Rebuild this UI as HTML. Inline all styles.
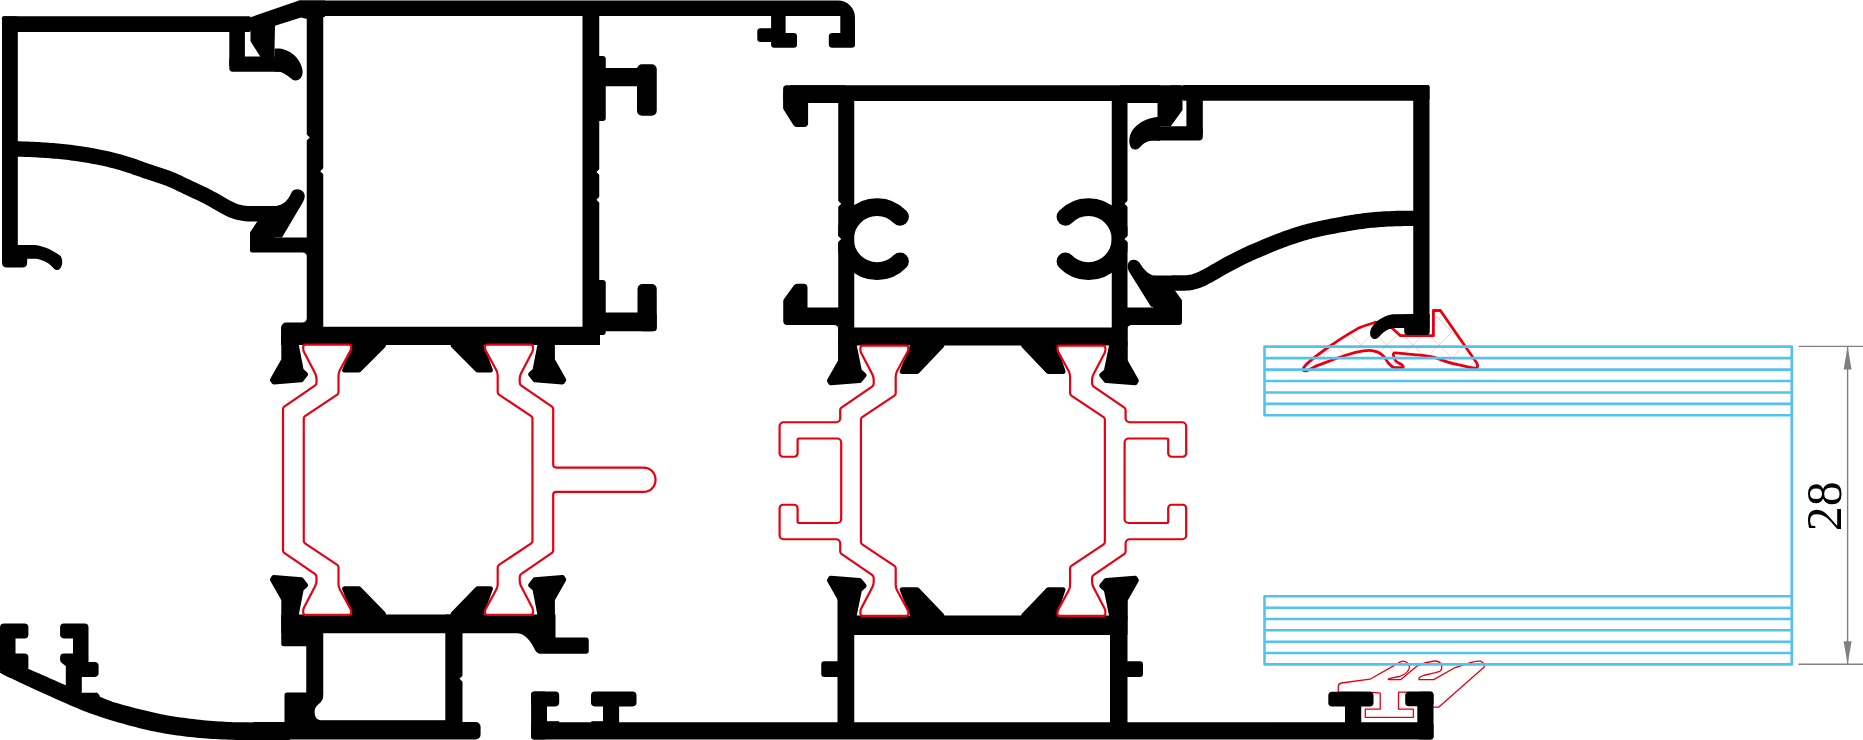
<!DOCTYPE html>
<html><head><meta charset="utf-8"><title>28</title>
<style>html,body{margin:0;padding:0;background:#fff;overflow:hidden}svg{display:block}text{font-family:"Liberation Serif",serif}</style>
</head><body>
<svg width="1863" height="740" viewBox="0 0 1863 740">
<rect width="1863" height="740" fill="#fff"/>
<clipPath id="gk"><path d="M1303.2,368.6 C1306,362.5 1320,353 1331.8,344.9 C1340,339 1350,333 1357.7,328.6 C1364,325.5 1370,324 1376.1,322.2 L1392.3,328.3 L1400.4,335.7 L1433.4,335.7 L1433.4,310.5 L1440.4,310.5 L1476.6,362.7 C1478.5,366 1478,368.5 1474.5,368.1 C1470,367.6 1466,366.5 1463.6,365.9 C1458,364.5 1452,363.5 1446.4,361.6 C1441,359.8 1437,358 1432.3,356.8 C1426,355.6 1420,355.2 1413.9,354.6 L1395.5,352.8 C1393.5,352.8 1393,354 1393.4,355.1 C1394,357.5 1394.5,359 1395.5,360.5 C1397,362.5 1400,363.5 1402,364.9 C1403.5,366 1403.6,367.6 1402.6,367.6 L1394.5,367.6 C1392,367 1390.5,365.5 1389,363.8 C1387,361.5 1385.5,358.5 1383.6,356.2 C1381.5,354 1379.5,352.8 1377.2,351.9 C1374.5,350.8 1372,350.3 1369.6,350.3 C1365,350.3 1360,351.3 1355.5,352.4 C1350,353.8 1344,355.8 1338.2,357.8 L1316.6,365.9 C1313,367.5 1310,369.8 1306.9,370.6 C1304,371.2 1302.3,370.5 1303.2,368.6 Z"/></clipPath>
<path d="M1186,300 l90,90 M1276,300 l-90,90 M1212,300 l90,90 M1302,300 l-90,90 M1238,300 l90,90 M1328,300 l-90,90 M1264,300 l90,90 M1354,300 l-90,90 M1290,300 l90,90 M1380,300 l-90,90 M1316,300 l90,90 M1406,300 l-90,90 M1342,300 l90,90 M1432,300 l-90,90 M1368,300 l90,90 M1458,300 l-90,90 M1394,300 l90,90 M1484,300 l-90,90 M1420,300 l90,90 M1510,300 l-90,90 M1446,300 l90,90 M1536,300 l-90,90 M1472,300 l90,90 M1562,300 l-90,90 M1498,300 l90,90 M1588,300 l-90,90 M1524,300 l90,90 M1614,300 l-90,90 M1550,300 l90,90 M1640,300 l-90,90 M1576,300 l90,90 M1666,300 l-90,90" clip-path="url(#gk)" stroke="#f7b4b4" stroke-width="0.6" fill="none"/>
<path d="M1303.2,368.6 C1306,362.5 1320,353 1331.8,344.9 C1340,339 1350,333 1357.7,328.6 C1364,325.5 1370,324 1376.1,322.2 L1392.3,328.3 L1400.4,335.7 L1433.4,335.7 L1433.4,310.5 L1440.4,310.5 L1476.6,362.7 C1478.5,366 1478,368.5 1474.5,368.1 C1470,367.6 1466,366.5 1463.6,365.9 C1458,364.5 1452,363.5 1446.4,361.6 C1441,359.8 1437,358 1432.3,356.8 C1426,355.6 1420,355.2 1413.9,354.6 L1395.5,352.8 C1393.5,352.8 1393,354 1393.4,355.1 C1394,357.5 1394.5,359 1395.5,360.5 C1397,362.5 1400,363.5 1402,364.9 C1403.5,366 1403.6,367.6 1402.6,367.6 L1394.5,367.6 C1392,367 1390.5,365.5 1389,363.8 C1387,361.5 1385.5,358.5 1383.6,356.2 C1381.5,354 1379.5,352.8 1377.2,351.9 C1374.5,350.8 1372,350.3 1369.6,350.3 C1365,350.3 1360,351.3 1355.5,352.4 C1350,353.8 1344,355.8 1338.2,357.8 L1316.6,365.9 C1313,367.5 1310,369.8 1306.9,370.6 C1304,371.2 1302.3,370.5 1303.2,368.6 Z" fill="none" stroke="#e60012" stroke-width="2.8" stroke-linejoin="round"/>
<path d="M1338.25,692 L1338.25,686.5 Q1338.5,683.5 1341.5,683 L1369.9,679.2 L1397.9,663.4 Q1400.5,661.6 1402.7,661.2 Q1406,661 1408,663.5 Q1410.5,666.5 1408.5,670 Q1406,674.5 1399,676.5 L1389,678.6 Q1387.3,679.6 1389.5,679.6 L1400.9,679.6 L1417.3,665.8 Q1425,662 1434.4,661 Q1439,660.8 1441,664 Q1443,669 1439.8,671.3 L1434.4,672.9 L1423.4,675.5 Q1418,677.5 1419,679.6 L1433.7,679.6 L1453.8,668.2 L1469.6,662.8 Q1476,660.6 1480.5,661.2 Q1485,663 1484.2,667 L1438.6,707.2 L1432.5,707.2 M1338.25,692 L1372.9,692.4 L1380.2,693.2 L1380.2,709.2 L1365.3,709.2 L1365.3,717.3 L1413.4,717.3 L1413.4,709.2 L1398.5,709.2 L1398.5,692.2 L1432,692.2" fill="none" stroke="#e60012" stroke-width="1.3" stroke-linejoin="round"/>
<rect x="2.00" y="16.25" width="15.80" height="245.75" rx="2" fill="#000"/>
<rect x="2.00" y="16.25" width="249.00" height="15.75" rx="2" fill="#000"/>
<rect x="229.30" y="28.00" width="15.60" height="38.00" rx="0" fill="#000"/>
<rect x="229.30" y="56.50" width="54.70" height="15.30" rx="3.5" fill="#000"/>
<path d="M17,244.9 L34.9,244.9 C44,246 54,250.5 60.8,256.2 C62.3,259 62.5,262 62,264.7 C61,268.5 59,270.2 56.8,270 C54.5,269.8 53.5,268 51.9,266.4 C49,263.6 46.5,262.3 43.8,261.1 C41,259.8 38.5,258.7 35.7,258.7 L27.2,258.7 L27.2,262.6 Q27.2,267.6 22.2,267.6 L7,267.6 Q2,267.6 2,262.6 L2,244.9 Z" fill="#000"/>
<path d="M12.00,149.00 L12.36,148.99 L12.74,148.98 L13.18,148.96 L13.72,148.95 L14.43,148.94 L15.35,148.94 L16.52,148.96 L18.00,149.00 L19.87,149.06 L22.12,149.13 L24.66,149.22 L27.39,149.31 L30.23,149.42 L33.07,149.54 L35.82,149.67 L38.40,149.80 L40.83,149.94 L43.23,150.09 L45.60,150.25 L47.94,150.42 L50.28,150.60 L52.61,150.79 L54.95,150.99 L57.30,151.20 L59.70,151.43 L62.14,151.67 L64.61,151.93 L67.07,152.20 L69.49,152.47 L71.83,152.75 L74.08,153.03 L76.20,153.30 L78.13,153.56 L79.89,153.80 L81.52,154.05 L83.10,154.29 L84.68,154.55 L86.31,154.83 L88.07,155.15 L90.00,155.50 L92.12,155.89 L94.37,156.31 L96.71,156.76 L99.13,157.24 L101.59,157.73 L104.06,158.25 L106.50,158.79 L108.90,159.35 L111.26,159.93 L113.62,160.52 L115.99,161.14 L118.35,161.78 L120.71,162.44 L123.08,163.12 L125.44,163.82 L127.80,164.55 L130.13,165.30 L132.42,166.07 L134.69,166.86 L136.97,167.68 L139.29,168.51 L141.67,169.37 L144.13,170.25 L146.70,171.15 L149.43,172.08 L152.32,173.03 L155.31,174.01 L158.35,175.02 L161.39,176.03 L164.38,177.06 L167.27,178.10 L170.00,179.15 L172.57,180.21 L175.03,181.28 L177.41,182.37 L179.73,183.46 L182.01,184.57 L184.28,185.68 L186.57,186.79 L188.90,187.90 L191.26,189.00 L193.62,190.09 L195.99,191.19 L198.35,192.28 L200.71,193.40 L203.08,194.53 L205.44,195.70 L207.80,196.90 L210.23,198.19 L212.75,199.59 L215.30,201.04 L217.84,202.51 L220.30,203.93 L222.64,205.27 L224.79,206.48 L226.70,207.50 L228.34,208.34 L229.74,209.03 L230.96,209.61 L232.04,210.09 L233.06,210.51 L234.05,210.88 L235.08,211.24 L236.20,211.60 L237.38,211.95 L238.56,212.27 L239.73,212.54 L240.91,212.79 L242.08,213.00 L243.25,213.19 L244.43,213.35 L245.60,213.50 L246.75,213.62 L247.87,213.70 L248.97,213.75 L250.08,213.77 L251.21,213.78 L252.40,213.79 L253.65,213.79 L255.00,213.80 L256.46,213.81 L258.02,213.81 L259.66,213.81 L261.34,213.80 L263.04,213.78 L264.74,213.77 L266.40,213.76 L268.00,213.75 L269.63,213.74 L271.35,213.74 L273.10,213.73 L274.81,213.72 L276.42,213.72 L277.87,213.71 L279.08,213.70 L280.00,213.70" fill="none" stroke="#000" stroke-width="15.4" stroke-linejoin="round"/>
<path d="M262,221 L277.5,205.5 C285,204.5 289,198 291,193.5 C293,188 301,188 304,193 C305.5,196 304.5,199 303,202 L282,237.5 L275,237.5 Z" fill="#000"/>
<path d="M258.58,223.00 L252.00,233.09 L252.00,250.50 L307.00,250.50 L307.00,239.50 L273.87,239.50 L263.87,223.00Z" fill="#000" stroke="#000" stroke-width="4" stroke-linejoin="round"/>
<path d="M299,0.5 L838,0.5 A17,17 0 0 1 855,17.5 L855,45 Q855,47.8 851.5,47.8 L832.3,47.8 Q828.8,47.8 828.8,44.3 L828.8,36.4 Q828.8,32.9 832.3,32.9 L840.3,33 L840.3,16 L299,16 Z" fill="#000"/>
<path d="M250.50,17.30 L299.00,0.50 L325.00,0.50 L325.00,17.00 L307.00,19.00 L301.00,17.50 L275.00,25.75 L274.50,50.00 L274.50,58.00 L261.00,58.00 L260.00,56.25 L250.50,41.25Z" fill="#000"/>
<path d="M274.5,48.75 C285,47 300,55 302.5,70 C303.5,77 299,81 295,80.5 C291,80 289,75 280,71.75 L274.5,71.75 Z" fill="#000"/>
<rect x="306.75" y="10.00" width="16.50" height="335.00" rx="0" fill="#000"/>
<rect x="582.50" y="10.00" width="16.75" height="335.00" rx="0" fill="#000"/>
<rect x="590.00" y="56.00" width="15.75" height="65.00" rx="3" fill="#000"/>
<rect x="590.00" y="280.00" width="15.75" height="55.00" rx="3" fill="#000"/>
<rect x="599.00" y="68.00" width="51.00" height="18.25" rx="0" fill="#000"/>
<rect x="637.00" y="64.25" width="19.75" height="51.50" rx="5" fill="#000"/>
<rect x="599.00" y="312.50" width="57.75" height="18.75" rx="3" fill="#000"/>
<rect x="637.50" y="284.00" width="19.25" height="47.25" rx="5" fill="#000"/>
<rect x="281.25" y="326.75" width="318.75" height="18.25" rx="0" fill="#000"/>
<rect x="281.25" y="322.50" width="30.75" height="22.50" rx="5" fill="#000"/>
<rect x="281.25" y="330.00" width="18.75" height="15.00" rx="0" fill="#000"/>
<path d="M774.30,13.20 L774.30,31.40 L760.50,31.40 L760.50,38.80 L774.30,38.80 L774.30,44.60 L793.80,44.60 L793.80,36.10 L782.40,36.10 L782.40,13.20Z" fill="#000" stroke="#000" stroke-width="6.4" stroke-linejoin="round"/>
<path d="M354.68,345.50 L344.71,370.10 L358.96,370.10 L383.39,345.50Z" fill="#000" stroke="#000" stroke-width="5.0" stroke-linejoin="round"/>
<path d="M453.19,345.50 L477.54,370.10 L490.40,370.10 L481.26,345.50Z" fill="#000" stroke="#000" stroke-width="5.0" stroke-linejoin="round"/>
<path d="M281.25,614.5 L555.5,614.5 L555.5,637.5 L586,637.5 Q588.75,637.5 588.75,640.5 L588.75,651 Q588.75,653.75 586,653.75 L541,653.75 C537,653.75 535.5,651 534,648 C531,642 526,634 517.5,633.25 L281.25,633.25 Z" fill="#000"/>
<path d="M283.75,618.50 L283.75,643.75 L308.75,643.75 L308.75,695.00 L287.00,695.00 L287.00,722.50 L320.75,722.50 L320.75,618.50Z" fill="#000" stroke="#000" stroke-width="5.0" stroke-linejoin="round"/>
<rect x="445.30" y="614.50" width="17.20" height="124.50" rx="0" fill="#000"/>
<rect x="250.00" y="722.00" width="230.60" height="17.40" rx="5" fill="#000"/>
<path d="M323.4,695 C323.6,704 314.6,704 314.6,711.5 C314.6,717 317,720.2 321,720.2 L326,720.2 L326,695 Z" fill="#fff"/>
<rect x="323.00" y="720.20" width="123.00" height="4.80" rx="0" fill="#000"/>
<path d="M354.70,614.00 L344.68,588.75 L358.94,588.75 L383.48,614.00Z" fill="#000" stroke="#000" stroke-width="5.0" stroke-linejoin="round"/>
<path d="M453.10,614.00 L477.56,588.75 L490.43,588.75 L481.25,614.00Z" fill="#000" stroke="#000" stroke-width="5.0" stroke-linejoin="round"/>
<path d="M28.40,668.80 L29.76,669.40 L31.56,670.20 L33.72,671.16 L36.11,672.22 L38.63,673.34 L41.19,674.47 L43.68,675.58 L46.00,676.60 L48.29,677.61 L50.73,678.69 L53.23,679.78 L55.69,680.87 L58.04,681.90 L60.18,682.84 L62.03,683.65 L63.50,684.30 L64.55,684.76 L65.24,685.06 L65.65,685.24 L65.84,685.33 L65.90,685.36 L65.90,685.36 L65.91,685.36 L66.00,685.40 L66.00,692.70 L97.30,692.70 L99.50,696.50 L100.45,696.90 L101.62,697.43 L103.00,698.05 L104.59,698.76 L106.38,699.51 L108.36,700.30 L110.54,701.11 L112.90,701.90 L115.53,702.72 L118.48,703.59 L121.67,704.50 L125.03,705.42 L128.49,706.36 L131.97,707.28 L135.40,708.16 L138.70,709.00 L141.92,709.80 L145.13,710.59 L148.34,711.35 L151.55,712.10 L154.76,712.82 L157.97,713.51 L161.18,714.17 L164.40,714.80 L167.62,715.39 L170.84,715.94 L174.07,716.46 L177.29,716.96 L180.52,717.42 L183.75,717.87 L186.97,718.29 L190.20,718.70 L193.42,719.09 L196.65,719.46 L199.88,719.80 L203.10,720.13 L206.32,720.43 L209.55,720.71 L212.77,720.96 L216.00,721.20 L219.07,721.41 L221.93,721.60 L224.69,721.76 L227.50,721.91 L230.48,722.03 L233.78,722.14 L237.50,722.22 L241.80,722.30 L247.08,722.35 L253.40,722.38 L260.35,722.38 L267.51,722.37 L274.47,722.35 L280.81,722.33 L286.13,722.31 L290.00,722.30 L290.00,740.50 L287.69,740.51 L284.64,740.52 L281.00,740.54 L276.94,740.55 L272.65,740.56 L268.28,740.56 L264.01,740.54 L260.00,740.50 L256.13,740.44 L252.18,740.37 L248.19,740.29 L244.19,740.19 L240.22,740.09 L236.33,739.97 L232.54,739.84 L228.90,739.70 L225.42,739.55 L222.08,739.40 L218.84,739.25 L215.67,739.08 L212.54,738.89 L209.43,738.68 L206.29,738.45 L203.10,738.20 L199.88,737.92 L196.65,737.63 L193.43,737.32 L190.20,736.99 L186.98,736.63 L183.75,736.25 L180.53,735.84 L177.30,735.40 L174.07,734.93 L170.85,734.44 L167.62,733.92 L164.39,733.38 L161.17,732.80 L157.94,732.20 L154.72,731.57 L151.50,730.90 L148.28,730.20 L145.07,729.47 L141.86,728.70 L138.65,727.91 L135.44,727.09 L132.23,726.24 L129.02,725.38 L125.80,724.50 L122.54,723.59 L119.23,722.64 L115.89,721.66 L112.56,720.66 L109.28,719.66 L106.07,718.65 L102.96,717.67 L100.00,716.70 L97.33,715.82 L94.98,715.05 L92.82,714.33 L90.69,713.59 L88.46,712.78 L85.97,711.84 L83.10,710.70 L79.70,709.30 L75.69,707.61 L71.20,705.68 L66.32,703.56 L61.19,701.30 L55.93,698.96 L50.64,696.59 L45.46,694.25 L40.50,692.00 L35.47,689.70 L30.13,687.23 L24.68,684.70 L19.32,682.19 L14.24,679.79 L9.65,677.60 L5.74,675.71 L2.70,674.20 L0.66,673.12 L-0.51,672.40 L-1.00,671.96 L-1.01,671.74 L-0.73,671.65 L-0.34,671.63 L-0.03,671.61 L0.00,671.50Z" fill="#000"/>
<path d="M4.00,627.50 L24.40,627.50 L24.40,634.40 L11.50,634.40 L11.50,657.50 L24.40,657.50 L24.40,667.38 L10.21,673.55 L4.00,670.13Z" fill="#000" stroke="#000" stroke-width="8" stroke-linejoin="round"/>
<path d="M63.90,627.30 L84.70,627.30 L84.70,665.80 L94.80,665.80 L94.80,673.10 L78.00,673.10 L78.00,691.20 L69.60,691.20 L69.60,664.16 L63.90,659.66 L63.90,657.30 L76.80,657.30 L76.80,634.60 L63.90,634.60Z" fill="#000" stroke="#000" stroke-width="7.6" stroke-linejoin="round"/>
<path d="M96,692.7 Q98.5,692.7 100,696.7 L96,697 Z" fill="#000"/>
<rect x="783.10" y="85.30" width="399.40" height="15.70" rx="3.5" fill="#000"/>
<rect x="790.00" y="85.30" width="55.00" height="17.70" rx="0" fill="#000"/>
<rect x="1170.00" y="85.30" width="12.50" height="9.70" rx="0" fill="#000"/>
<path d="M787.10,96.00 L787.10,107.65 L796.71,122.90 L804.10,122.90 L804.10,96.00Z" fill="#000" stroke="#000" stroke-width="8" stroke-linejoin="round"/>
<rect x="838.25" y="90.00" width="16.00" height="272.00" rx="0" fill="#000"/>
<rect x="1111.75" y="90.00" width="15.75" height="272.00" rx="0" fill="#000"/>
<clipPath id="c1"><rect x="838.25" y="150" width="120" height="200"/></clipPath><clipPath id="c2"><rect x="1000" y="150" width="127.5" height="200"/></clipPath>
<path d="M900,216.9 A32,32 0 1,0 900,261.3" fill="none" stroke="#000" stroke-width="17.8" stroke-linecap="round" clip-path="url(#c1)"/>
<path d="M1065.5,216.9 A32,32 0 1,1 1065.5,261.3" fill="none" stroke="#000" stroke-width="17.8" stroke-linecap="round" clip-path="url(#c2)"/>
<path d="M787.25,301.29 L797.04,287.75 L803.50,287.75 L803.50,311.50 L838.00,311.50 L838.00,321.00 L787.25,321.00Z" fill="#000" stroke="#000" stroke-width="8" stroke-linejoin="round"/>
<rect x="838.25" y="327.50" width="289.25" height="18.00" rx="0" fill="#000"/>
<path d="M912.69,345.50 L902.21,371.40 L917.13,371.40 L941.86,345.50Z" fill="#000" stroke="#000" stroke-width="5.0" stroke-linejoin="round"/>
<path d="M1023.64,345.50 L1048.37,371.40 L1063.01,371.40 L1054.21,345.50Z" fill="#000" stroke="#000" stroke-width="5.0" stroke-linejoin="round"/>
<path d="M1157.50,95.00 L1157.50,126.25 L1170.75,126.25 L1182.50,110.00 L1182.50,95.00Z" fill="#000"/>
<path d="M1123.00,310.60 L1154.84,310.60 L1163.84,293.00 L1173.05,293.00 L1179.00,301.36 L1179.00,322.00 L1123.00,322.00Z" fill="#000" stroke="#000" stroke-width="6" stroke-linejoin="round"/>
<rect x="1182.00" y="85.00" width="247.50" height="15.75" rx="2" fill="#000"/>
<rect x="1413.25" y="85.00" width="16.25" height="245.00" rx="2" fill="#000"/>
<rect x="1186.40" y="95.00" width="16.40" height="39.00" rx="0" fill="#000"/>
<rect x="1155.00" y="126.25" width="47.80" height="14.15" rx="4" fill="#000"/>
<rect x="1120.00" y="85.30" width="40.00" height="17.70" rx="0" fill="#000"/>
<path d="M1160,117 C1148,117 1132,124 1129.5,138 C1128.5,145 1131,150 1136,149.5 C1141,149 1142,141 1152,140.75 L1160,140.75 Z" fill="#000"/>
<path d="M1420.00,218.40 L1419.55,218.40 L1419.03,218.40 L1418.41,218.39 L1417.69,218.39 L1416.83,218.39 L1415.83,218.39 L1414.66,218.39 L1413.30,218.40 L1411.71,218.41 L1409.90,218.41 L1407.90,218.41 L1405.76,218.41 L1403.53,218.42 L1401.24,218.45 L1398.95,218.49 L1396.70,218.55 L1394.45,218.63 L1392.14,218.72 L1389.78,218.82 L1387.39,218.93 L1384.99,219.06 L1382.58,219.21 L1380.18,219.37 L1377.80,219.55 L1375.44,219.75 L1373.08,219.96 L1370.71,220.19 L1368.35,220.44 L1365.99,220.70 L1363.63,220.98 L1361.26,221.28 L1358.90,221.60 L1356.57,221.94 L1354.28,222.29 L1352.01,222.65 L1349.73,223.04 L1347.41,223.45 L1345.03,223.87 L1342.57,224.33 L1340.00,224.80 L1337.27,225.30 L1334.38,225.84 L1331.39,226.40 L1328.35,226.97 L1325.31,227.57 L1322.32,228.18 L1319.43,228.79 L1316.70,229.40 L1314.13,230.01 L1311.67,230.62 L1309.29,231.24 L1306.98,231.87 L1304.69,232.52 L1302.42,233.18 L1300.13,233.88 L1297.80,234.60 L1295.44,235.35 L1293.08,236.13 L1290.71,236.94 L1288.35,237.77 L1285.99,238.61 L1283.63,239.48 L1281.26,240.36 L1278.90,241.25 L1276.50,242.18 L1274.06,243.15 L1271.59,244.15 L1269.13,245.16 L1266.71,246.17 L1264.37,247.16 L1262.12,248.11 L1260.00,249.00 L1258.07,249.81 L1256.31,250.55 L1254.68,251.24 L1253.10,251.91 L1251.52,252.60 L1249.89,253.33 L1248.13,254.14 L1246.20,255.05 L1244.08,256.07 L1241.83,257.16 L1239.49,258.32 L1237.07,259.53 L1234.61,260.77 L1232.14,262.04 L1229.70,263.32 L1227.30,264.60 L1224.87,265.93 L1222.35,267.36 L1219.80,268.83 L1217.26,270.31 L1214.80,271.75 L1212.46,273.11 L1210.31,274.34 L1208.40,275.40 L1206.76,276.29 L1205.36,277.03 L1204.14,277.67 L1203.06,278.21 L1202.04,278.69 L1201.05,279.14 L1200.02,279.56 L1198.90,280.00 L1197.72,280.44 L1196.55,280.84 L1195.37,281.22 L1194.20,281.57 L1193.03,281.88 L1191.85,282.16 L1190.68,282.40 L1189.50,282.60 L1188.33,282.75 L1187.19,282.85 L1186.05,282.90 L1184.91,282.93 L1183.75,282.93 L1182.55,282.93 L1181.31,282.93 L1180.00,282.95 L1178.63,282.98 L1177.22,283.01 L1175.77,283.03 L1174.28,283.05 L1172.76,283.06 L1171.20,283.08 L1169.61,283.09 L1168.00,283.10 L1166.25,283.11 L1164.31,283.11 L1162.28,283.11 L1160.25,283.11 L1158.31,283.11 L1156.56,283.10 L1155.09,283.10 L1154.00,283.10" fill="none" stroke="#000" stroke-width="15.4" stroke-linejoin="round"/>
<path d="M1172,291 L1156,276 C1149,275.3 1144.5,270.3 1141,265 C1138.5,259.5 1131,257.8 1128.3,263 C1127,266 1127.6,268.5 1129,271.5 L1151,306.8 L1158,307.6 Z" fill="#000"/>
<path d="M1414,314 L1393,314.3 C1385,315.5 1379,319.5 1376,322.2 C1372.5,325.5 1370.3,329 1370.1,332.5 C1370,336.5 1372,339.2 1375.2,339 C1378.5,338.8 1380,335 1384,332 C1387,329.8 1390,328.4 1394,328 L1404.2,328 L1404.2,331.5 Q1404.2,335.1 1408,335.1 L1426.5,335.1 Q1429.7,335.1 1429.7,332 L1429.7,314 Z" fill="#000"/>
<rect x="838.25" y="615.50" width="289.25" height="19.50" rx="0" fill="#000"/>
<rect x="837.50" y="598.00" width="16.75" height="127.00" rx="0" fill="#000"/>
<rect x="1110.00" y="598.00" width="17.50" height="127.00" rx="0" fill="#000"/>
<path d="M912.68,615.50 L902.22,589.80 L917.14,589.80 L941.83,615.50Z" fill="#000" stroke="#000" stroke-width="5.0" stroke-linejoin="round"/>
<path d="M1023.67,615.50 L1048.36,589.80 L1063.00,589.80 L1054.21,615.50Z" fill="#000" stroke="#000" stroke-width="5.0" stroke-linejoin="round"/>
<rect x="821.25" y="661.25" width="20.75" height="15.75" rx="3" fill="#000"/>
<rect x="1122.00" y="661.25" width="21.00" height="15.75" rx="3" fill="#000"/>
<rect x="531.10" y="722.30" width="902.40" height="17.10" rx="3" fill="#000"/>
<rect x="546.00" y="721.20" width="13.20" height="2.80" rx="0" fill="#000"/>
<rect x="591.40" y="721.20" width="12.60" height="2.80" rx="0" fill="#000"/>
<rect x="531.10" y="691.60" width="15.90" height="47.80" rx="3" fill="#000"/>
<rect x="531.10" y="691.60" width="28.10" height="14.80" rx="3.8" fill="#000"/>
<rect x="591.00" y="691.60" width="45.50" height="14.80" rx="3.8" fill="#000"/>
<rect x="603.00" y="700.00" width="16.10" height="25.00" rx="0" fill="#000"/>
<rect x="1328.30" y="691.80" width="45.20" height="14.70" rx="3.8" fill="#000"/>
<rect x="1345.00" y="700.00" width="16.25" height="25.00" rx="0" fill="#000"/>
<rect x="1417.30" y="691.80" width="16.20" height="47.60" rx="3" fill="#000"/>
<rect x="1405.20" y="691.80" width="28.30" height="14.50" rx="3.8" fill="#000"/>
<path d="M307.2,317.5 Q306.75,322.5 301.5,322.5 L307.2,323 Z" fill="#000"/>
<path d="M307.2,257 Q306.75,252.5 302,252.5 L307.2,252 Z" fill="#000"/>
<path d="M1127,329.5 Q1127.5,325 1132,325 L1127,324.5 Z" fill="#000"/>
<path d="M838.6,329.5 Q838.3,325 833.8,325 L838.6,324.5 Z" fill="#000"/>
<path d="M283.80,342.00 L283.80,359.96 L272.43,379.91 L273.78,381.99 L301.31,379.80 L305.60,374.29 L301.20,370.29 L296.20,344.44 L296.20,342.00Z" fill="#000" stroke="#000" stroke-width="5.0" stroke-linejoin="round"/>
<path d="M552.40,342.00 L552.40,359.96 L563.77,379.91 L562.42,381.99 L534.89,379.80 L530.60,374.29 L535.00,370.29 L540.00,344.44 L540.00,342.00Z" fill="#000" stroke="#000" stroke-width="5.0" stroke-linejoin="round"/>
<path d="M283.80,617.50 L283.80,599.54 L272.43,579.59 L273.78,577.51 L301.31,579.70 L305.60,585.21 L301.20,589.21 L296.20,615.06 L296.20,617.50Z" fill="#000" stroke="#000" stroke-width="5.0" stroke-linejoin="round"/>
<path d="M552.40,617.50 L552.40,599.54 L563.77,579.59 L562.42,577.51 L534.89,579.70 L530.60,585.21 L535.00,589.21 L540.00,615.06 L540.00,617.50Z" fill="#000" stroke="#000" stroke-width="5.0" stroke-linejoin="round"/>
<path d="M840.80,342.80 L840.80,360.76 L829.43,380.71 L830.79,382.79 L859.56,380.59 L864.09,375.10 L859.49,371.14 L854.19,345.25 L854.19,342.80Z" fill="#000" stroke="#000" stroke-width="5.0" stroke-linejoin="round"/>
<path d="M1125.00,342.80 L1125.00,360.76 L1136.37,380.71 L1135.01,382.79 L1106.24,380.59 L1101.71,375.10 L1106.31,371.14 L1111.61,345.25 L1111.61,342.80Z" fill="#000" stroke="#000" stroke-width="5.0" stroke-linejoin="round"/>
<path d="M840.80,618.20 L840.80,600.24 L829.43,580.29 L830.79,578.21 L859.56,580.41 L864.09,585.90 L859.49,589.86 L854.19,615.75 L854.19,618.20Z" fill="#000" stroke="#000" stroke-width="5.0" stroke-linejoin="round"/>
<path d="M1125.00,618.20 L1125.00,600.24 L1136.37,580.29 L1135.01,578.21 L1106.24,580.41 L1101.71,585.90 L1106.31,589.86 L1111.61,615.75 L1111.61,618.20Z" fill="#000" stroke="#000" stroke-width="5.0" stroke-linejoin="round"/>
<path d="M306.15,134.00 L309.75,137.50 L306.15,141.00Z" fill="#fff"/>
<path d="M323.85,167.80 L320.25,171.30 L323.85,174.80Z" fill="#fff"/>
<path d="M600.00,168.50 L596.40,172.00 L600.00,175.50Z" fill="#fff"/>
<path d="M600.00,196.20 L596.40,199.70 L600.00,203.20Z" fill="#fff"/>
<path d="M837.65,200.25 L841.25,203.75 L837.65,207.25Z" fill="#fff"/>
<path d="M837.65,235.40 L841.25,238.90 L837.65,242.40Z" fill="#fff"/>
<path d="M1128.10,200.25 L1124.50,203.75 L1128.10,207.25Z" fill="#fff"/>
<path d="M1128.10,235.40 L1124.50,238.90 L1128.10,242.40Z" fill="#fff"/>
<path d="M463.10,675.25 L459.50,678.75 L463.10,682.25Z" fill="#fff"/>
<path d="M348.85,344.60 A2.35,2.35 0 0 1 351.20,346.95 L351.20,347.40 A7.82,7.82 0 0 1 350.24,351.15 L339.94,369.97 A11.73,11.73 0 0 0 338.50,375.60 L338.50,392.25 A2.81,2.81 0 0 1 337.25,394.58 L305.00,416.17 A2.81,2.81 0 0 0 303.75,418.50 L303.75,541.00 A2.81,2.81 0 0 0 305.00,543.33 L337.25,564.92 A2.81,2.81 0 0 1 338.50,567.25 L338.50,583.90 A11.73,11.73 0 0 0 339.94,589.53 L350.24,608.35 A7.82,7.82 0 0 1 351.20,612.10 L351.20,612.55 A2.35,2.35 0 0 1 348.85,614.90 L305.70,614.90 A2.50,2.50 0 0 1 303.20,612.40 L303.20,611.10 A8.13,8.13 0 0 1 304.13,607.33 L315.11,586.36 A12.20,12.20 0 0 0 316.50,580.70 L316.50,577.10 A3.81,3.81 0 0 0 314.85,573.96 L284.23,552.85 A2.86,2.86 0 0 1 283.00,550.50 L283.00,409.00 A2.86,2.86 0 0 1 284.23,406.65 L314.85,385.54 A3.81,3.81 0 0 0 316.50,382.40 L316.50,378.80 A12.20,12.20 0 0 0 315.11,373.14 L304.13,352.17 A8.13,8.13 0 0 1 303.20,348.40 L303.20,347.10 A2.50,2.50 0 0 1 305.70,344.60Z" fill="none" stroke="#e60012" stroke-width="2.2" stroke-linejoin="round"/>
<path d="M487.35,344.60 A2.35,2.35 0 0 0 485.00,346.95 L485.00,347.40 A7.82,7.82 0 0 0 485.96,351.15 L496.26,369.97 A11.73,11.73 0 0 1 497.70,375.60 L497.70,392.25 A2.81,2.81 0 0 0 498.95,394.58 L531.20,416.17 A2.81,2.81 0 0 1 532.45,418.50 L532.45,541.00 A2.81,2.81 0 0 1 531.20,543.33 L498.95,564.92 A2.81,2.81 0 0 0 497.70,567.25 L497.70,583.90 A11.73,11.73 0 0 1 496.26,589.53 L485.96,608.35 A7.82,7.82 0 0 0 485.00,612.10 L485.00,612.55 A2.35,2.35 0 0 0 487.35,614.90 L530.50,614.90 A2.50,2.50 0 0 0 533.00,612.40 L533.00,611.10 A8.13,8.13 0 0 0 532.07,607.33 L521.09,586.36 A12.20,12.20 0 0 1 519.70,580.70 L519.70,577.10 A3.81,3.81 0 0 1 521.35,573.96 L551.97,552.85 A2.86,2.86 0 0 0 553.20,550.50 L553.20,494.90 A3.00,3.00 0 0 1 556.20,491.90 L643.60,491.90 A11.90,11.90 0 0 0 655.50,480.00 L655.50,479.50 A11.90,11.90 0 0 0 643.60,467.60 L556.20,467.60 A3.00,3.00 0 0 1 553.20,464.60 L553.20,409.00 A2.86,2.86 0 0 0 551.97,406.65 L521.35,385.54 A3.81,3.81 0 0 1 519.70,382.40 L519.70,378.80 A12.20,12.20 0 0 1 521.09,373.14 L532.07,352.17 A8.13,8.13 0 0 0 533.00,348.40 L533.00,347.10 A2.50,2.50 0 0 0 530.50,344.60Z" fill="none" stroke="#e60012" stroke-width="2.2" stroke-linejoin="round"/>
<path d="M906.05,345.60 A2.35,2.35 0 0 1 908.40,347.95 L908.40,348.40 A7.82,7.82 0 0 1 907.44,352.15 L897.14,370.97 A11.73,11.73 0 0 0 895.70,376.60 L895.70,393.25 A2.81,2.81 0 0 1 894.45,395.58 L862.20,417.17 A2.81,2.81 0 0 0 860.95,419.50 L860.95,542.00 A2.81,2.81 0 0 0 862.20,544.33 L894.45,565.92 A2.81,2.81 0 0 1 895.70,568.25 L895.70,584.90 A11.73,11.73 0 0 0 897.14,590.53 L907.44,609.35 A7.82,7.82 0 0 1 908.40,613.10 L908.40,613.55 A2.35,2.35 0 0 1 906.05,615.90 L862.90,615.90 A2.50,2.50 0 0 1 860.40,613.40 L860.40,612.10 A8.13,8.13 0 0 1 861.33,608.33 L872.31,587.36 A12.20,12.20 0 0 0 873.70,581.70 L873.70,578.10 A3.81,3.81 0 0 0 872.05,574.96 L841.43,553.85 A2.86,2.86 0 0 1 840.20,551.50 L840.20,543.25 A4.00,4.00 0 0 0 836.20,539.25 L783.60,539.25 A4.00,4.00 0 0 1 779.60,535.25 L779.60,508.25 A3.50,3.50 0 0 1 783.10,504.75 L794.10,504.75 A3.50,3.50 0 0 1 797.60,508.25 L797.60,522.00 A1.00,1.00 0 0 0 798.60,523.00 L837.20,523.00 A4.00,4.00 0 0 0 841.20,519.00 L841.20,442.50 A4.00,4.00 0 0 0 837.20,438.50 L798.60,438.50 A1.00,1.00 0 0 0 797.60,439.50 L797.60,453.25 A3.50,3.50 0 0 1 794.10,456.75 L783.10,456.75 A3.50,3.50 0 0 1 779.60,453.25 L779.60,426.25 A4.00,4.00 0 0 1 783.60,422.25 L836.20,422.25 A4.00,4.00 0 0 0 840.20,418.25 L840.20,410.00 A2.86,2.86 0 0 1 841.43,407.65 L872.05,386.54 A3.81,3.81 0 0 0 873.70,383.40 L873.70,379.80 A12.20,12.20 0 0 0 872.31,374.14 L861.33,353.17 A8.13,8.13 0 0 1 860.40,349.40 L860.40,348.10 A2.50,2.50 0 0 1 862.90,345.60Z" fill="none" stroke="#e60012" stroke-width="2.2" stroke-linejoin="round"/>
<path d="M1059.75,345.60 A2.35,2.35 0 0 0 1057.40,347.95 L1057.40,348.40 A7.82,7.82 0 0 0 1058.36,352.15 L1068.66,370.97 A11.73,11.73 0 0 1 1070.10,376.60 L1070.10,393.25 A2.81,2.81 0 0 0 1071.35,395.58 L1103.60,417.17 A2.81,2.81 0 0 1 1104.85,419.50 L1104.85,542.00 A2.81,2.81 0 0 1 1103.60,544.33 L1071.35,565.92 A2.81,2.81 0 0 0 1070.10,568.25 L1070.10,584.90 A11.73,11.73 0 0 1 1068.66,590.53 L1058.36,609.35 A7.82,7.82 0 0 0 1057.40,613.10 L1057.40,613.55 A2.35,2.35 0 0 0 1059.75,615.90 L1102.90,615.90 A2.50,2.50 0 0 0 1105.40,613.40 L1105.40,612.10 A8.13,8.13 0 0 0 1104.47,608.33 L1093.49,587.36 A12.20,12.20 0 0 1 1092.10,581.70 L1092.10,578.10 A3.81,3.81 0 0 1 1093.75,574.96 L1124.37,553.85 A2.86,2.86 0 0 0 1125.60,551.50 L1125.60,543.25 A4.00,4.00 0 0 1 1129.60,539.25 L1182.20,539.25 A4.00,4.00 0 0 0 1186.20,535.25 L1186.20,508.25 A3.50,3.50 0 0 0 1182.70,504.75 L1171.70,504.75 A3.50,3.50 0 0 0 1168.20,508.25 L1168.20,522.00 A1.00,1.00 0 0 1 1167.20,523.00 L1128.60,523.00 A4.00,4.00 0 0 1 1124.60,519.00 L1124.60,442.50 A4.00,4.00 0 0 1 1128.60,438.50 L1167.20,438.50 A1.00,1.00 0 0 1 1168.20,439.50 L1168.20,453.25 A3.50,3.50 0 0 0 1171.70,456.75 L1182.70,456.75 A3.50,3.50 0 0 0 1186.20,453.25 L1186.20,426.25 A4.00,4.00 0 0 0 1182.20,422.25 L1129.60,422.25 A4.00,4.00 0 0 1 1125.60,418.25 L1125.60,410.00 A2.86,2.86 0 0 0 1124.37,407.65 L1093.75,386.54 A3.81,3.81 0 0 1 1092.10,383.40 L1092.10,379.80 A12.20,12.20 0 0 1 1093.49,374.14 L1104.47,353.17 A8.13,8.13 0 0 0 1105.40,349.40 L1105.40,348.10 A2.50,2.50 0 0 0 1102.90,345.60Z" fill="none" stroke="#e60012" stroke-width="2.2" stroke-linejoin="round"/>
<path d="M1264.5,358.15 H1791.75 M1264.5,369.6 H1791.75 M1264.5,381.0 H1791.75 M1264.5,392.5 H1791.75 M1264.5,403.9 H1791.75 M1264.5,607.7 H1791.75 M1264.5,619.0 H1791.75 M1264.5,630.3 H1791.75 M1264.5,641.7 H1791.75 M1264.5,653.0 H1791.75 M1791.75,346.6 H1264.5 V415.2 H1791.75 V596.3 H1264.5 V664.4 H1791.75 Z" fill="none" stroke="#54c2ef" stroke-width="2.6" stroke-linejoin="round"/>
<path d="M1798.5,346.4 H1863 M1798.5,664.3 H1863 M1847.6,346.4 V664.3" fill="none" stroke="#808080" stroke-width="1.4"/>
<path d="M1847.6,346.4 l-4,23 h8z M1847.6,664.3 l-4,-23 h8z" fill="#808080"/>
<text x="0" y="0" transform="translate(1841.2,506.3) rotate(-90)" text-anchor="middle" font-size="50" fill="#000">28</text>
</svg>
</body></html>
